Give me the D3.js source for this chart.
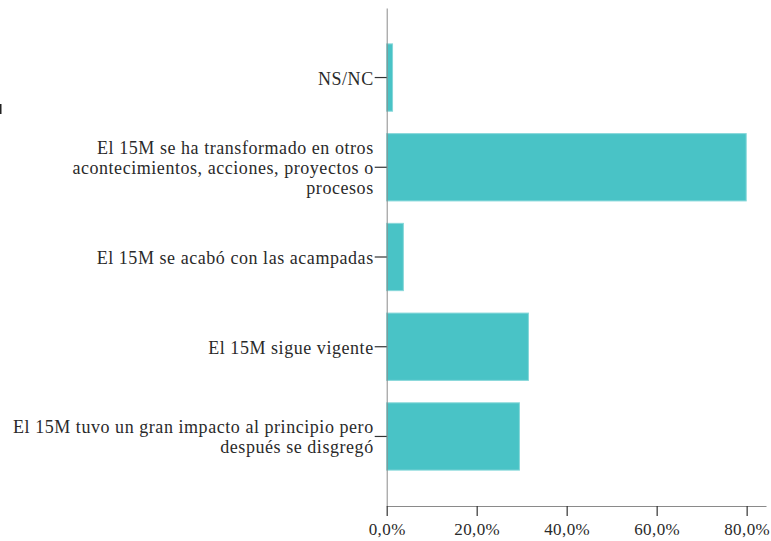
<!DOCTYPE html>
<html><head><meta charset="utf-8">
<script src="https://cdn.jsdelivr.net/npm/d3@7"></script>
<style>html,body{margin:0;padding:0;background:#fff;}</style>
</head>
<body><svg id="c" width="771" height="541"></svg>
<script>
const categories = [
  "NS/NC",
  "El 15M se ha transformado en otros\nacontecimientos, acciones, proyectos o\nprocesos",
  "El 15M se acabó con las acampadas",
  "El 15M sigue vigente",
  "El 15M tuvo un gran impacto al principio pero\ndespués se disgregó"
];
const values = [1.3, 79.9, 3.7, 31.5, 29.5];
const tickValues = [0, 20, 40, 60, 80];
const tickLabels = ["0,0%", "20,0%", "40,0%", "60,0%", "80,0%"];

const FONT = '"Liberation Serif"';
const svg = d3.select("#c");
const x = d3.scaleLinear().domain([0, 84.3]).range([386.7, 766]);
const y = d3.scaleBand().domain(categories).range([8, 506]).paddingInner(0.25).paddingOuter(0.4);

// bars
svg.append("g").selectAll("rect").data(values).join("rect")
  .attr("x", x(0))
  .attr("y", (d,i) => y(categories[i]))
  .attr("width", d => x(d) - x(0))
  .attr("height", y.bandwidth())
  .attr("fill", "#49c3c6")
  .attr("stroke", "#86d7d9")
  .attr("stroke-width", 1);

// y axis
const yAxis = svg.append("g").attr("transform", `translate(${x(0)},0)`)
  .call(d3.axisLeft(y).tickSize(12).tickSizeOuter(0).tickFormat(""));
yAxis.attr("font-family", null).attr("font-size", null);
yAxis.select(".domain").attr("stroke", "#8a8a8a");
yAxis.selectAll(".tick line").attr("stroke", "#333").attr("stroke-width", 1.2);
yAxis.selectAll(".tick").each(function(d){
  const lines = d.split("\n");
  const t = d3.select(this).append("text")
    .attr("text-anchor", "end")
    .attr("font-size", 18)
    .attr("letter-spacing", 0.55)
    .attr("fill", "#2a2a2a")
    .style("font-family", FONT);
  lines.forEach((ln, k) => {
    t.append("tspan").attr("x", -13)
      .attr("y", 7 + (k - (lines.length - 1) / 2) * 20)
      .text(ln);
  });
});

// x axis
const xAxis = svg.append("g").attr("transform", `translate(0,506)`)
  .call(d3.axisBottom(x).tickValues(tickValues).tickSize(10).tickSizeOuter(0)
    .tickFormat((d,i) => tickLabels[i]));
xAxis.attr("font-family", null).attr("font-size", null);
xAxis.select(".domain").attr("stroke", "#8a8a8a");
xAxis.selectAll(".tick line").attr("stroke", "#333").attr("stroke-width", 1.2);
xAxis.selectAll(".tick text").attr("y", 17).attr("dy", "0.71em")
  .attr("font-size", 17).attr("letter-spacing", 0.4).attr("fill", "#2a2a2a")
  .style("font-family", FONT);

// clipped fragment at left edge
svg.append("rect").attr("x", 0).attr("y", 104).attr("width", 1.5).attr("height", 10).attr("fill", "#222");
</script></body></html>
